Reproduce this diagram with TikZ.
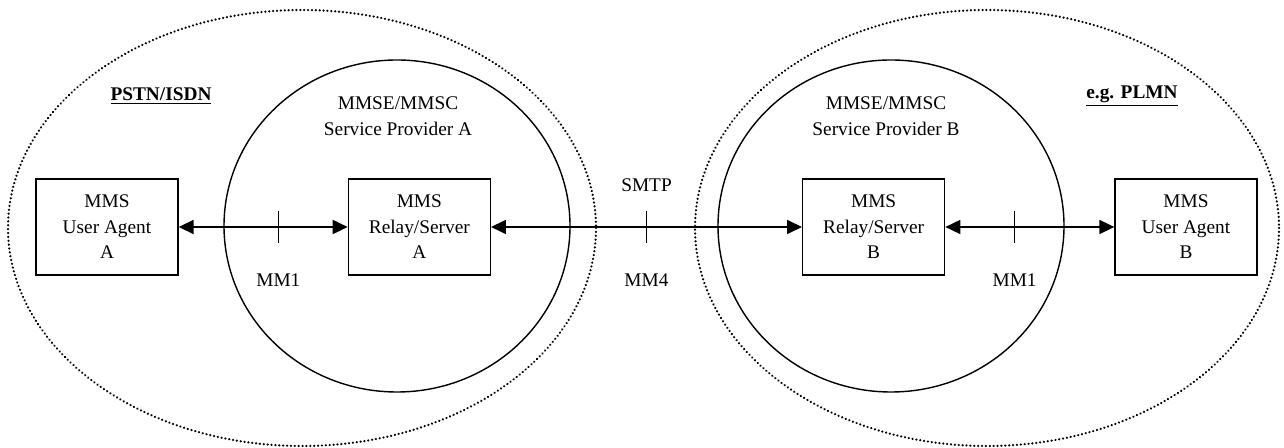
\documentclass[tikz,border=0pt]{standalone}
\usepackage{fontspec}
\setmainfont{Liberation Serif}
\usetikzlibrary{positioning, arrows.meta}

\begin{document}
\begin{tikzpicture}[x=0.02cm, y=-0.02cm, node distance=3.38cm,
	every node/.style={font=\fontsize{11}{14.5}\selectfont},
	mmsbox/.style={rectangle, text centered, align=center, draw=black, line width=0.8pt, minimum height=1.92cm, minimum width=2.84cm},
	netzone/.style={draw=black, line width=1.4pt, dash pattern=on 0.01pt off 2.2pt, line cap=round},
	provider/.style={draw=black, line width=0.8pt},
	link/.style={line width=0.8pt, {Triangle[length=8.5pt,width=8pt]}-{Triangle[length=8.5pt,width=8pt]}},
	tick/.style={line width=0.8pt}]
	\useasboundingbox (0,0) rectangle (1284,448);
	% networks and service providers
	\draw[netzone] (302,228) ellipse [x radius=294, y radius=218];
	\draw[netzone] (987,228) ellipse [x radius=292, y radius=218];
	\draw[provider] (397,226) ellipse [x radius=173, y radius=166];
	\draw[provider] (891,226) ellipse [x radius=173, y radius=166];
	\node (pstn) at (161,96) {\textbf{\underline{PSTN/ISDN}}};
	\node (plmn) at (1132,96) {\textbf{\underline{e.g. PLMN}}};
	\node[align=center] (spa) at (398,116) {MMSE/MMSC\\Service Provider A};
	\node[align=center] (spb) at (886,116) {MMSE/MMSC\\Service Provider B};
	% MMS elements
	\node[mmsbox] (uaa) at (107,227) {MMS\\User Agent\\A};
	\node[mmsbox] (relaya) [right=of uaa] {MMS\\Relay/Server\\A};
	\node[mmsbox] (relayb) [right=6.22cm of relaya] {MMS\\Relay/Server\\B};
	\node[mmsbox] (uab) [right=of relayb] {MMS\\User Agent\\B};
	% reference points
	\draw[link] (uaa.east) -- (relaya.west) coordinate[pos=0.59] (mm1a);
	\draw[link] (relaya.east) -- (relayb.west) coordinate[midway] (mm4);
	\draw[link] (relayb.east) -- (uab.west) coordinate[pos=0.41] (mm1b);
	\draw[tick] (mm1a) ++(0,-16) -- ++(0,32);
	\draw[tick] (mm4) ++(0,-16) -- ++(0,32);
	\draw[tick] (mm1b) ++(0,-16) -- ++(0,32);
	\node (lblmm1a) at ([yshift=-1.06cm]mm1a) {MM1};
	\node (lblmm4) at ([yshift=-1.06cm]mm4) {MM4};
	\node (lblsmtp) at ([yshift=0.84cm]mm4) {SMTP};
	\node (lblmm1b) at ([yshift=-1.06cm]mm1b) {MM1};
\end{tikzpicture}
\end{document}
